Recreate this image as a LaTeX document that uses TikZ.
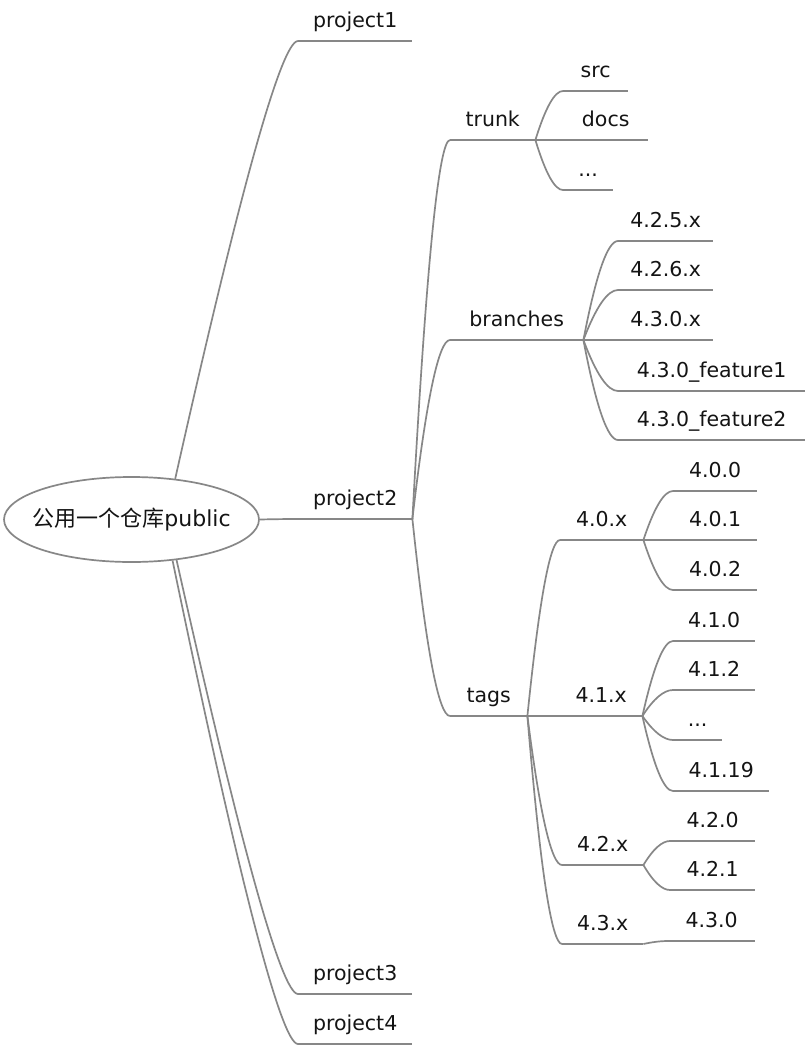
\documentclass[tikz,border=0pt]{standalone}
\usepackage{fontspec}
\setmainfont{DejaVu Sans}
\newfontfamily\cjk{Noto Sans CJK SC}
\usetikzlibrary{calc,shapes.geometric}
\definecolor{linegray}{RGB}{135,135,135}
\definecolor{txt}{RGB}{20,20,20}
\tikzset{
  line/.style={draw=linegray, line width=1.7pt},
  conn/.style={to path={let \p1=(\tikztostart), \p2=(\tikztotarget) in
     .. controls ({\x1+0.6667*#1*(\x2-\x1)},{\y1+0.6667*(\y2-\y1)})
        and ({\x2-0.6667*(1-#1)*(\x2-\x1)},\y2) .. (\tikztotarget)}},
  conn/.default=0.55,
  lf/.style={anchor=south west, inner xsep=0pt, inner ysep=0pt,
     minimum width=#1, text height=15pt, text depth=13pt, text=txt,
     font=\fontsize{20.5}{24}\selectfont},
  rootnode/.style={ellipse, draw=linegray, line width=1.7pt, minimum width=255pt,
     minimum height=85pt, inner xsep=-20pt, inner ysep=0pt, text=txt,
     font=\fontsize{22}{26}\selectfont}
}
\begin{document}
\begin{tikzpicture}[x=1pt,y=-1pt]
\useasboundingbox[fill=white] (0,0) rectangle (810,1050);
\node[rootnode] (root) at (131.5,519.5) {{\cjk 公用一个仓库}public};
% level 1
\node[lf=114pt] (p1) at (298,41) {project1};
\node[lf=114pt] (p2) at (298,519) {project2};
\node[lf=114pt] (p3) at (298,994) {project3};
\node[lf=114pt] (p4) at (298,1044) {project4};
% level 2
\node[lf=85pt] (trunk) at (450,140) {trunk};
\node[lf=133pt] (branches) at (450,340) {branches};
\node[lf=77pt] (tags) at (450,716) {tags};
% trunk children
\node[lf=65pt] (src) at (563,91) {src};
\node[lf=85pt] (docs) at (563,140) {docs};
\node[lf=50pt] (tdots) at (563,190) {...};
% branches children
\node[lf=95pt] (b1) at (618,241) {4.2.5.x};
\node[lf=95pt] (b2) at (618,290) {4.2.6.x};
\node[lf=95pt] (b3) at (618,340) {4.3.0.x};
\node[lf=187pt] (b4) at (618,391) {4.3.0\_feature1};
\node[lf=187pt] (b5) at (618,440) {4.3.0\_feature2};
% tags children
\node[lf=83pt] (t0) at (560,540) {4.0.x};
\node[lf=82pt] (t1) at (560,716) {4.1.x};
\node[lf=81pt] (t2) at (562,865) {4.2.x};
\node[lf=81pt] (t3) at (562,944) {4.3.x};
% 4.0.x children
\node[lf=84pt] (v400) at (673,491) {4.0.0};
\node[lf=84pt] (v401) at (673,540) {4.0.1};
\node[lf=84pt] (v402) at (673,590) {4.0.2};
% 4.1.x children
\node[lf=82pt] (v410) at (673,641) {4.1.0};
\node[lf=82pt] (v412) at (673,690) {4.1.2};
\node[lf=49pt] (v41d) at (673,740) {...};
\node[lf=96pt] (v4119) at (673,791) {4.1.19};
% 4.2.x children
\node[lf=85pt] (v420) at (670,841) {4.2.0};
\node[lf=85pt] (v421) at (670,890) {4.2.1};
% 4.3.x child
\node[lf=87pt] (v430) at (668,941) {4.3.0};
% underlines
\foreach \n in {p1,p2,p3,p4,trunk,branches,tags,src,docs,tdots,b1,b2,b3,b4,b5,
  t0,t1,t2,t3,v400,v401,v402,v410,v412,v41d,v4119,v420,v421,v430}
  \draw[line] (\n.south west) -- (\n.south east);
% connectors from root
\draw[line] (root.43) to[conn=0.8] (p1.south west);
\draw[line] (root.east) to[conn] (p2.south west);
\draw[line] (root.-42) to[conn=0.8] (p3.south west);
\draw[line] (root.-45) to[conn=0.8] (p4.south west);
% project2
\foreach \c in {trunk,branches,tags}
  \draw[line] (p2.south east) to[conn] (\c.south west);
\foreach \c in {src,docs,tdots}
  \draw[line] (trunk.south east) to[conn] (\c.south west);
\foreach \c in {b1,b2,b3,b4,b5}
  \draw[line] (branches.south east) to[conn] (\c.south west);
\foreach \c in {t0,t1,t2,t3}
  \draw[line] (tags.south east) to[conn] (\c.south west);
\foreach \c in {v400,v401,v402}
  \draw[line] (t0.south east) to[conn] (\c.south west);
\foreach \c in {v410,v412,v41d,v4119}
  \draw[line] (t1.south east) to[conn] (\c.south west);
\foreach \c in {v420,v421}
  \draw[line] (t2.south east) to[conn] (\c.south west);
\draw[line] (t3.south east) to[conn] (v430.south west);
\end{tikzpicture}
\end{document}
